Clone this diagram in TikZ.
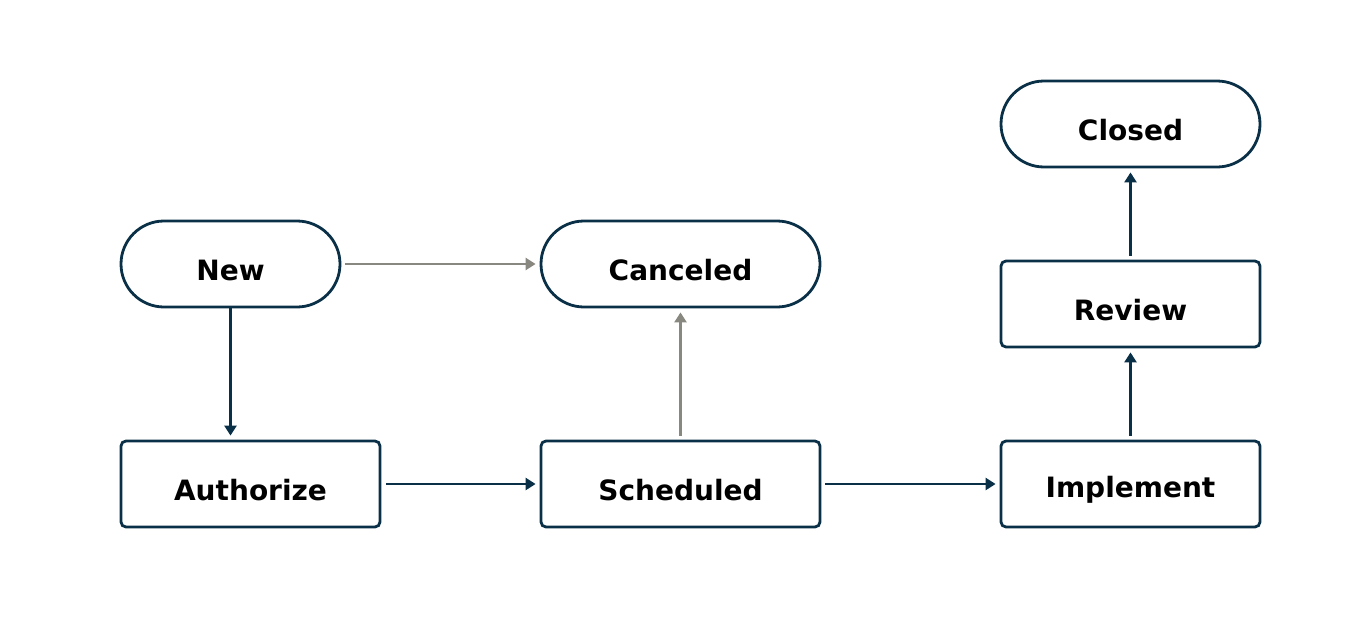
\documentclass[tikz,border=0pt]{standalone}
\usepackage{fontspec}
\setmainfont{DejaVu Sans}
\usetikzlibrary{shapes.misc,arrows.meta}
\definecolor{navy}{HTML}{0A3047}
\definecolor{greyline}{RGB}{136,136,128}
\begin{document}
\begin{tikzpicture}[x=1pt,y=-1pt,
  stadium/.style={rounded rectangle, draw=navy, line width=2.8pt, minimum height=86pt, inner sep=0pt},
  box/.style={rectangle, rounded corners=5pt, draw=navy, line width=2.8pt, minimum height=86pt, inner sep=0pt},
  lbl/.style={font=\fontsize{28}{34}\selectfont\bfseries, text=black, anchor=base, inner sep=0pt},
  flow/.style={draw=navy, line width=2.4pt, -{Triangle[length=10pt,width=12pt]}},
  cancel/.style={draw=greyline, line width=2.4pt, -{Triangle[length=10pt,width=12pt]}}]
\useasboundingbox (0,0) rectangle (1360,640);
% shapes
\node[stadium, minimum width=219pt] (new) at (230.5,264) {};
\node[stadium, minimum width=279pt] (canc) at (680.5,264) {};
\node[stadium, minimum width=259pt] (closed) at (1130.5,124) {};
\node[box, minimum width=259pt] (auth) at (250.5,484) {};
\node[box, minimum width=279pt] (sched) at (680.5,484) {};
\node[box, minimum width=259pt] (impl) at (1130.5,484) {};
\node[box, minimum width=259pt] (rev) at (1130.5,304) {};
% labels
\node[lbl] (tnew) at ([yshift=-16pt]new.center) {New};
\node[lbl] (tcanc) at ([yshift=-16pt]canc.center) {Canceled};
\node[lbl] (tclosed) at ([yshift=-16pt]closed.center) {Closed};
\node[lbl] (tauth) at ([yshift=-16pt]auth.center) {Authorize};
\node[lbl] (tsched) at ([yshift=-16pt]sched.center) {Scheduled};
\node[lbl] (timpl) at ([yshift=-13pt]impl.center) {Implement};
\node[lbl] (trev) at ([yshift=-16pt]rev.center) {Review};
% connectors
\draw[flow, shorten >=4pt] (new.south) -- (new.south |- auth.north);
\draw[flow, shorten <=5pt, shorten >=4pt] (auth.east) -- (sched.west);
\draw[flow, shorten <=4pt, shorten >=4pt] (sched.east) -- (impl.west);
\draw[flow, shorten <=4pt, shorten >=4pt] (impl.north) -- (rev.south);
\draw[flow, shorten <=4pt, shorten >=4pt] (rev.north) -- (closed.south);
\draw[cancel, shorten <=4pt, shorten >=4pt] (new.east) -- (canc.west);
\draw[cancel, shorten <=4pt, shorten >=4pt] (sched.north) -- (canc.south);
\end{tikzpicture}
\end{document}
